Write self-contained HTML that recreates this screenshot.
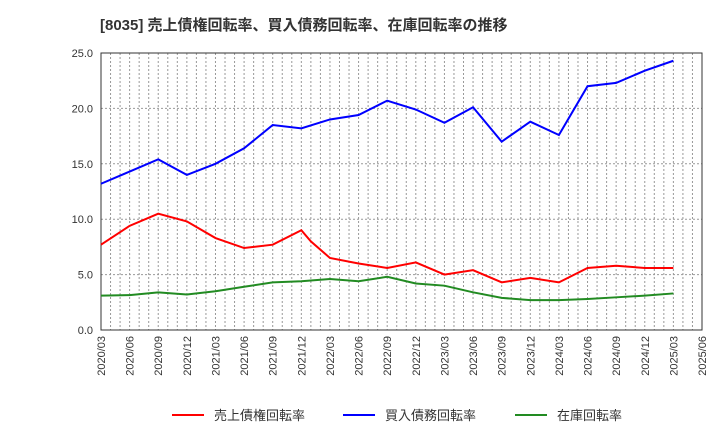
<!DOCTYPE html>
<html><head><meta charset="utf-8"><style>
body{margin:0;background:#fff;font-family:"Liberation Sans","Noto Sans CJK JP",sans-serif;}
</style></head><body>
<svg id="c" width="720" height="440" xmlns="http://www.w3.org/2000/svg">
<text x="100" y="30" font-size="15" font-weight="bold" fill="#333" font-family="Liberation Sans, Noto Sans CJK JP, sans-serif">[8035]  売上債権回転率、買入債務回転率、在庫回転率の推移</text>
<g id="grid"></g><g id="axes"></g><g id="series"></g><g id="legend"></g>
</svg>
<script>
const xLabels=["2020/03","2020/06","2020/09","2020/12","2021/03","2021/06","2021/09","2021/12","2022/03","2022/06","2022/09","2022/12","2023/03","2023/06","2023/09","2023/12","2024/03","2024/06","2024/09","2024/12","2025/03","2025/06"];
const yTicks=[0,5,10,15,20,25];
const redMonths=[0,3,6,9,12,15,18,21,22,24,27,30,33,36,39,42,45,48,51,54,57,60];
const redVals=[7.7,9.4,10.5,9.8,8.3,7.4,7.7,9.0,8.0,6.5,6.0,5.6,6.1,5.0,5.4,4.3,4.7,4.3,5.6,5.8,5.6,5.6];
const qMonths=[0,3,6,9,12,15,18,21,24,27,30,33,36,39,42,45,48,51,54,57,60];
const blueVals=[13.2,14.3,15.4,14.0,15.0,16.4,18.5,18.2,19.0,19.4,20.7,19.9,18.7,20.1,17.0,18.8,17.6,22.0,22.3,23.4,24.3];
const greenVals=[3.1,3.15,3.4,3.2,3.5,3.9,4.3,4.4,4.6,4.4,4.8,4.2,4.0,3.4,2.9,2.7,2.7,2.8,2.95,3.1,3.3];
const L=101,R=702,T=53,B=330,NM=63;
const X=m=>L+(R-L)*m/NM, Y=v=>B-(B-T)*v/25;
const NS="http://www.w3.org/2000/svg";
function mk(p,t,a){const e=document.createElementNS(NS,t);for(const k in a)e.setAttribute(k,a[k]);document.getElementById(p).appendChild(e);return e;}
for(let m=1;m<NM;m++){const e=mk('grid','line',{x1:X(m),x2:X(m),y1:T,y2:B,stroke:'#999','stroke-dasharray':'2,2','stroke-width':1});

}
yTicks.forEach(v=>{if(v>0&&v<25){const e=mk('grid','line',{x1:L,x2:R,y1:Y(v),y2:Y(v),stroke:'#999','stroke-dasharray':'2,2'});

}
const t=mk('axes','text',{x:L-8,y:Y(v)+4,'text-anchor':'end','font-size':11,fill:'#333'});t.textContent=v.toFixed(1);

});
const fr=mk('axes','rect',{x:L,y:T,width:R-L,height:B-T,fill:'none',stroke:'#333'});


xLabels.forEach((s,i)=>{const x=X(i*3);const t=mk('axes','text',{transform:`translate(${x+4},${B+6}) rotate(-90)`,'text-anchor':'end','font-size':11,fill:'#333'});t.textContent=s;

});
function line(ms,vs,c,n){const p=mk('series','polyline',{points:ms.map((m,i)=>X(m)+','+Y(vs[i])).join(' '),fill:'none',stroke:c,'stroke-width':2});

}
line(redMonths,redVals,'#f00','receivables-turnover-line');
line(qMonths,blueVals,'#00f','payables-turnover-line');
line(qMonths,greenVals,'#228b22','inventory-turnover-line');
[["売上債権回転率",'#f00',172],["買入債務回転率",'#00f',343],["在庫回転率",'#228b22',515]].forEach(([s,c,x])=>{
const g=mk('legend','g',{});

const l=document.createElementNS(NS,'line');l.setAttribute('x1',x);l.setAttribute('x2',x+32);l.setAttribute('y1',415);l.setAttribute('y2',415);l.setAttribute('stroke',c);l.setAttribute('stroke-width',2);g.appendChild(l);
const t=document.createElementNS(NS,'text');t.setAttribute('x',x+42);t.setAttribute('y',420);t.setAttribute('font-size',13);t.setAttribute('fill','#333');t.textContent=s;g.appendChild(t);});
</script>
</body></html>
